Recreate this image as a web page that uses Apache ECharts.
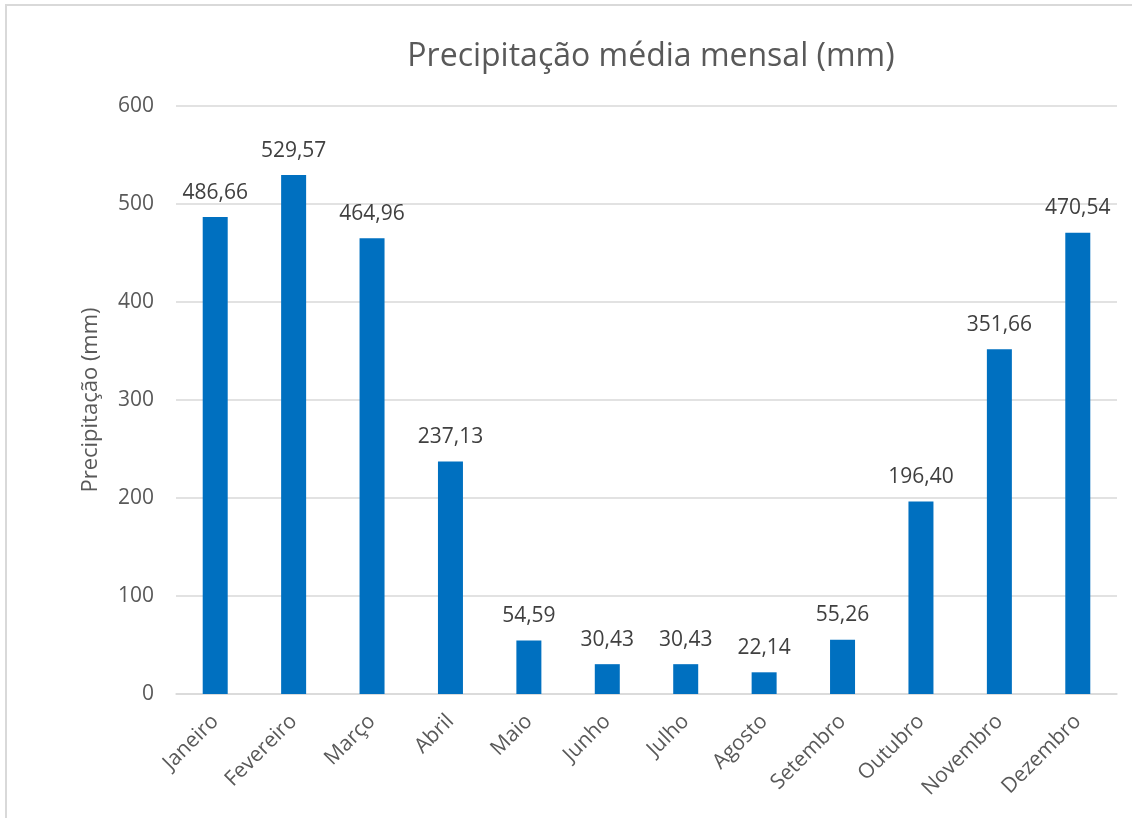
<!DOCTYPE html>
<html>
<head>
<meta charset="utf-8">
<script src="https://cdn.jsdelivr.net/npm/echarts@6/dist/echarts.min.js"></script>
<style>
  html, body { margin: 0; padding: 0; background: #fff; overflow: hidden; }
  #frame { position: absolute; left: 5px; top: 4px; width: 1140px; height: 830px; border: 2px solid #d9d9d9; box-sizing: border-box; }
  #chart { position: absolute; left: 0; top: 0; width: 1132px; height: 818px; }
</style>
</head>
<body>
<div id="frame"></div>
<div id="chart"></div>
<script>
// dados
var meses = ['Janeiro', 'Fevereiro', 'Março', 'Abril', 'Maio', 'Junho', 'Julho', 'Agosto', 'Setembro', 'Outubro', 'Novembro', 'Dezembro'];
var precipitacao = [486.66, 529.57, 464.96, 237.13, 54.59, 30.43, 30.43, 22.14, 55.26, 196.40, 351.66, 470.54];
var titulo = 'Precipitação média mensal (mm)';
var eixoY = 'Precipitação (mm)';

var fonte = 'Open Sans';
var cinza = '#595959';

var chart = echarts.init(document.getElementById('chart'));
var option = {
  animation: false,
  textStyle: { fontFamily: fonte, color: cinza },
  title: {
    text: titulo,
    left: 646,
    textAlign: 'center',
    top: 36,
    textStyle: { fontFamily: fonte, fontSize: 32, fontWeight: 'normal', color: cinza }
  },
  grid: { left: 176, right: 15, top: 106, bottom: 124 },
  xAxis: {
    type: 'category',
    data: meses,
    axisLine: { lineStyle: { color: '#d9d9d9', width: 1.5 } },
    axisTick: { show: false },
    axisLabel: {
      rotate: 45,
      color: cinza,
      fontSize: 21,
      fontFamily: fonte,
      margin: 24,
      interval: 0
    }
  },
  yAxis: {
    type: 'value',
    min: 0,
    max: 600,
    interval: 100,
    name: eixoY,
    nameLocation: 'middle',
    nameGap: 74,
    nameTextStyle: { fontFamily: fonte, fontSize: 22, color: cinza },
    axisLine: { show: false },
    axisTick: { show: false },
    axisLabel: { color: cinza, fontSize: 21, fontFamily: fonte, margin: 22 },
    splitLine: { lineStyle: { color: '#d9d9d9', width: 1.5 } }
  },
  series: [{
    type: 'bar',
    data: precipitacao,
    barWidth: 25,
    itemStyle: { color: '#0070C0' },
    label: {
      show: true,
      position: 'top',
      distance: 14,
      color: '#404040',
      fontSize: 21,
      fontFamily: fonte,
      formatter: function (p) { return p.value.toFixed(2).replace('.', ','); }
    }
  }]
};
chart.setOption(option);
</script>
</body>
</html>
